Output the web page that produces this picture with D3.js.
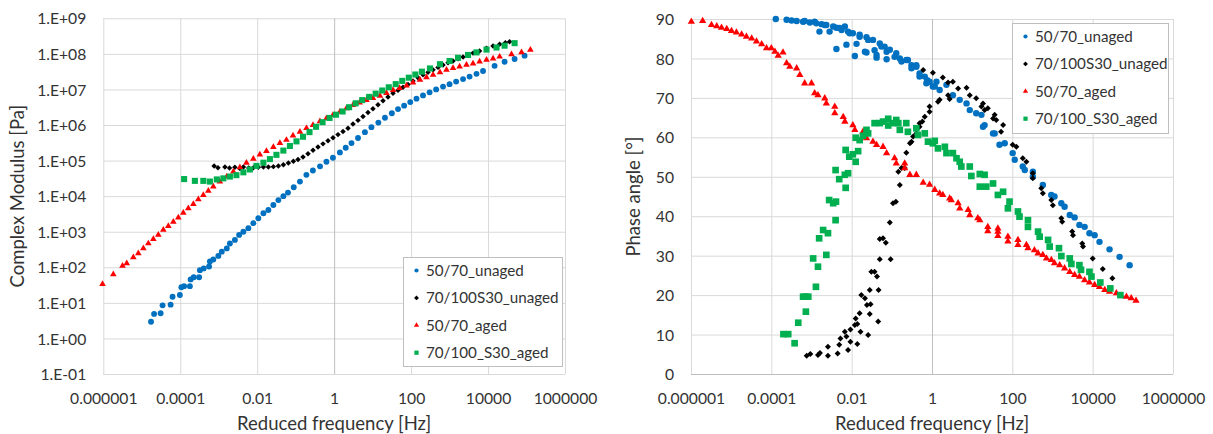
<!DOCTYPE html>
<html>
<head>
<meta charset="utf-8">
<script src="https://cdn.jsdelivr.net/npm/d3@7"></script>
<style>
  body { margin: 0; background: #ffffff; }
  text { font-family: Lato, "Noto Sans", sans-serif; fill: #333333; }
</style>
</head>
<body>
<svg id="chart" width="1213" height="434"></svg>
<script>
// ---------- Data ----------
const seriesNames = ["50/70_unaged", "70/100S30_unaged", "50/70_aged", "70/100_S30_aged"];

// Master curves: [reduced frequency (Hz), complex modulus (Pa)]
const modulus5070Unaged = [
  [1.74e-5, 2.95], [2.09e-5, 4.9], [3.09e-5, 5.1], [3.47e-5, 8.5], [5.62e-5, 8.9], [6.31e-5, 14.8],
  [9.77e-5, 16.6], [1.07e-4, 27.5], [1.26e-4, 29.5], [1.78e-4, 29.5], [1.86e-4, 45.7], [2.24e-4, 52.5],
  [3.09e-4, 52.5], [3.24e-4, 83], [4.07e-4, 93], [5.62e-4, 105], [5.89e-4, 145], [7.24e-4, 166],
  [9.77e-4, 209], [1.2e-3, 275], [1.62e-3, 339], [1.95e-3, 468], [2.63e-3, 589], [3.39e-3, 813],
  [4.37e-3, 1000], [5.89e-3, 1260], [7.94e-3, 1740], [1.07e-2, 2400], [1.45e-2, 3310], [1.95e-2, 4070],
  [2.63e-2, 5620], [3.55e-2, 7760], [4.79e-2, 1.0e4], [6.31e-2, 1.26e4], [8.91e-2, 1.78e4], [0.129, 2.57e4],
  [0.19, 3.98e4], [0.28, 5.25e4], [0.43, 6.9e4], [0.63, 9.3e4], [0.93, 1.2e5], [1.41, 1.7e5],
  [2.0, 2.3e5], [2.82, 3.1e5], [4.17, 4.3e5], [6.31, 6.3e5], [9.3, 8.7e5], [14.1, 1.17e6],
  [20.9, 1.6e6], [31.6, 2.14e6], [45.7, 2.8e6], [66, 3.5e6], [95, 4.4e6], [138, 5.5e6],
  [204, 6.8e6], [302, 8.3e6], [447, 1.0e7], [676, 1.2e7], [1000, 1.41e7], [1480, 1.66e7],
  [2240, 1.95e7], [3310, 2.3e7], [5010, 2.75e7], [7410, 3.3e7], [1.48e4, 4.6e7], [2.69e4, 6.0e7],
  [4.9e4, 7.2e7], [8.9e4, 8.9e7]
];
const modulus70100S30Unaged = [
  [7.59e-4, 7.08e4], [9.55e-4, 6.31e4], [1.45e-3, 6.61e4], [1.91e-3, 6.17e4], [2.63e-3, 6.46e4], [3.55e-3, 6.03e4],
  [4.37e-3, 6.61e4], [6.03e-3, 6.17e4], [7.94e-3, 6.31e4], [1.07e-2, 6.46e4], [1.45e-2, 6.61e4], [1.95e-2, 6.61e4],
  [2.63e-2, 6.76e4], [3.55e-2, 7.08e4], [4.79e-2, 7.59e4], [6.46e-2, 8.51e4], [8.71e-2, 9.55e4], [0.115, 1.07e5],
  [0.155, 1.26e5], [0.209, 1.55e5], [0.282, 1.95e5], [0.380, 2.4e5], [0.513, 2.95e5], [0.692, 3.63e5],
  [0.933, 4.37e5], [1.26, 5.37e5], [1.70, 6.61e5], [2.29, 8.13e5], [3.09, 1.07e6], [4.17, 1.35e6],
  [5.62, 1.74e6], [7.59, 2.24e6], [10.2, 2.88e6], [13.8, 3.72e6], [18.6, 4.79e6], [25.1, 6.17e6],
  [33.9, 7.76e6], [45.7, 9.55e6], [61.7, 1.15e7], [83.2, 1.38e7], [112, 1.74e7], [151, 2.14e7],
  [204, 2.57e7], [275, 3.02e7], [372, 3.55e7], [501, 4.17e7], [676, 4.9e7], [912, 5.62e7],
  [1230, 6.31e7], [1660, 7.24e7], [2240, 8.13e7], [3020, 9.33e7], [4070, 1.05e8], [6030, 1.2e8],
  [9120, 1.45e8], [1.35e4, 1.66e8], [2.0e4, 1.86e8], [2.82e4, 2.04e8], [3.63e4, 2.19e8]
];
const modulus5070Aged = [
  [9.55e-7, 33.9], [1.82e-6, 63.1], [3.16e-6, 110], [4.07e-6, 129], [6.03e-6, 191], [8.13e-6, 245],
  [1.1e-5, 339], [1.48e-5, 468], [2.0e-5, 617], [2.69e-5, 813], [3.63e-5, 1122], [4.9e-5, 1445],
  [6.61e-5, 1905], [8.91e-5, 2512], [1.2e-4, 3388], [1.62e-4, 4571], [2.19e-4, 6026], [2.95e-4, 8128],
  [3.98e-4, 1.07e4], [5.37e-4, 1.41e4], [7.24e-4, 1.86e4], [1.07e-3, 2.57e4], [1.62e-3, 3.55e4], [2.4e-3, 4.9e4],
  [3.55e-3, 6.46e4], [5.25e-3, 8.71e4], [7.94e-3, 1.12e5], [1.17e-2, 1.48e5], [1.74e-2, 1.86e5], [2.63e-2, 2.4e5],
  [3.89e-2, 3.09e5], [5.75e-2, 3.8e5], [8.51e-2, 5.01e5], [0.129, 6.46e5], [0.191, 8.13e5], [0.282, 1.0e6],
  [0.427, 1.26e6], [0.631, 1.55e6], [0.933, 1.91e6], [1.41, 2.34e6], [2.09, 2.95e6], [3.09, 3.63e6],
  [4.57, 4.27e6], [6.92, 5.01e6], [10.2, 5.75e6], [15.5, 6.61e6], [22.9, 7.94e6], [33.9, 9.55e6],
  [50.1, 1.1e7], [75.9, 1.29e7], [112, 1.55e7], [170, 1.86e7], [251, 2.19e7], [372, 2.57e7],
  [562, 3.02e7], [832, 3.55e7], [1230, 3.98e7], [1820, 4.37e7], [2750, 4.9e7], [4070, 5.37e7],
  [6030, 6.03e7], [9120, 6.76e7], [1.35e4, 7.41e7], [2.0e4, 8.32e7], [4.07e4, 9.77e7], [7.41e4, 1.1e8],
  [1.26e5, 1.29e8]
];
const modulus70100S30Aged = [
  [1.26e-4, 3.02e4], [2.4e-4, 2.69e4], [3.98e-4, 2.69e4], [5.89e-4, 2.57e4], [8.91e-4, 2.95e4], [1.32e-3, 3.16e4],
  [1.95e-3, 3.55e4], [2.88e-3, 3.89e4], [4.37e-3, 4.68e4], [6.46e-3, 5.62e4], [9.55e-3, 7.08e4], [1.45e-2, 8.71e4],
  [2.14e-2, 1.1e5], [3.16e-2, 1.45e5], [4.79e-2, 1.91e5], [7.08e-2, 2.57e5], [0.105, 3.47e5], [0.155, 4.68e5],
  [0.229, 6.31e5], [0.339, 8.91e5], [0.501, 1.2e6], [0.759, 1.58e6], [1.12, 1.95e6], [1.66, 2.4e6],
  [2.45, 3.16e6], [3.63, 4.07e6], [5.37, 5.01e6], [8.13, 6.17e6], [12.0, 7.59e6], [17.8, 9.33e6],
  [26.3, 1.15e7], [39.8, 1.41e7], [58.9, 1.74e7], [87.1, 2.14e7], [129, 2.63e7], [191, 3.16e7],
  [309, 3.89e7], [562, 5.13e7], [1000, 6.31e7], [1660, 7.76e7], [3020, 9.33e7], [5010, 1.1e8],
  [9120, 1.32e8], [1.66e4, 1.51e8], [2.69e4, 1.7e8], [4.9e4, 2.0e8]
];

// Phase angle curves: [reduced frequency (Hz), phase angle (deg)]
const phase5070Unaged = [
  [1.29e-4, 90.0], [2.4e-4, 89.8], [3.2e-4, 89.6], [4.27e-4, 89.5], [6.17e-4, 89.3], [6.76e-4, 89.5],
  [9.1e-4, 89.1], [1.2e-3, 89.3], [1.32e-3, 88.9], [1.58e-3, 86.8], [1.78e-3, 88.7], [2.14e-3, 88.5],
  [2.34e-3, 88.5], [2.82e-3, 86.8], [3.47e-3, 88.1], [4.17e-3, 87.8], [4.17e-3, 82.4], [5.01e-3, 87.7],
  [5.62e-3, 87.2], [6.76e-3, 88.1], [7.41e-3, 83.5], [8.13e-3, 86.8], [8.91e-3, 86.4], [1.07e-2, 86.4],
  [1.2e-2, 80.6], [1.32e-2, 83.7], [1.58e-2, 85.5], [1.58e-2, 86.0], [2.14e-2, 81.7], [2.34e-2, 85.4],
  [2.57e-2, 84.7], [2.34e-2, 81.5], [3.39e-2, 84.7], [3.72e-2, 82.1], [4.17e-2, 80.2], [4.17e-2, 80.9],
  [5.01e-2, 83.8], [5.5e-2, 83.0], [6.61e-2, 83.0], [7.41e-2, 81.7], [7.41e-2, 79.8], [8.91e-2, 82.2],
  [0.117, 80.4], [0.129, 81.3], [0.158, 80.0], [0.174, 79.2], [0.229, 79.6], [0.251, 79.6],
  [0.309, 78.3], [0.309, 77.5], [0.407, 77.9], [0.407, 78.3], [0.49, 76.2], [0.49, 75.4],
  [0.661, 75.4], [0.724, 73.7], [0.759, 74.5], [0.871, 74.1], [1.05, 72.9], [1.17, 72.9],
  [1.29, 74.1], [1.55, 72.0], [2.29, 73.3], [3.31, 70.7], [4.9, 69.5], [7.24, 68.6],
  [8.71, 66.9], [12.6, 66.1], [17.0, 65.7], [18.6, 62.7], [20.4, 63.1], [33.1, 61.0],
  [36.3, 61.0], [47.9, 58.1], [64.6, 58.5], [102, 56.0], [115, 54.3], [182, 52.6],
  [204, 51.7], [324, 50.0], [324, 51.3], [575, 47.9], [933, 45.4], [1120, 45.0],
  [1660, 43.3], [2000, 42.4], [2690, 40.3], [3550, 39.7], [4680, 37.8], [6310, 37.3],
  [8320, 35.7], [1.12e4, 35.2], [1.48e4, 33.5], [2.63e4, 31.6], [4.68e4, 29.7], [8.32e4, 27.6]
];
const phase70100S30Unaged = [
  [7.59e-4, 4.6], [9.33e-4, 5.1], [1.45e-3, 4.8], [1.62e-3, 5.3], [2.57e-3, 6.9], [2.57e-3, 4.6],
  [4.47e-3, 5.2], [4.9e-3, 7.4], [5.25e-3, 9.0], [6.76e-3, 10.7], [8.13e-3, 6.1], [7.41e-3, 9.5],
  [9.33e-3, 8.2], [9.33e-3, 11.3], [1.2e-2, 12.4], [1.38e-2, 7.6], [1.26e-2, 14.1], [1.38e-2, 12.7],
  [1.58e-2, 15.4], [1.66e-2, 10.7], [1.74e-2, 20.0], [2.14e-2, 19.2], [2.4e-2, 17.5], [2.57e-2, 9.9],
  [2.82e-2, 15.2], [2.82e-2, 21.3], [2.95e-2, 17.7], [3.09e-2, 25.9], [3.72e-2, 25.9], [4.27e-2, 24.7],
  [4.57e-2, 13.3], [4.68e-2, 21.3], [5.01e-2, 29.1], [5.01e-2, 34.2], [6.03e-2, 34.4], [7.08e-2, 33.3],
  [8.91e-2, 38.4], [9.33e-2, 29.1], [0.107, 43.3], [0.126, 43.7], [0.158, 47.9], [0.145, 51.3],
  [0.174, 52.2], [0.209, 52.2], [0.229, 56.1], [0.282, 58.5], [0.309, 58.9], [0.339, 60.2],
  [0.407, 61.0], [0.49, 62.7], [0.49, 63.6], [0.575, 64.0], [0.661, 65.2], [0.871, 66.5],
  [0.871, 67.8], [1.41, 69.0], [1.55, 69.5], [2.51, 70.7], [2.75, 69.7],
  [0.603, 77.1], [1.05, 76.4], [1.86, 75.2], [2.51, 73.9], [3.31, 74.1], [4.47, 72.4],
  [7.24, 72.6], [8.71, 70.7], [12.6, 69.9], [17.0, 67.8], [18.6, 68.6], [20.4, 66.9],
  [24.5, 67.4], [33.1, 64.8], [36.3, 65.7], [39.8, 64.4], [52.5, 61.4], [58.9, 63.1],
  [102, 58.1], [126, 57.6], [182, 54.7], [224, 53.8], [324, 50.9], [324, 49.6],
  [525, 47.1], [575, 45.8], [933, 44.1], [1020, 42.8], [1660, 39.5], [1740, 38.6],
  [3090, 36.1], [3240, 35.2], [5500, 33.1], [5750, 32.3], [1.0e4, 29.3], [1.78e4, 26.6],
  [3.09e4, 24.3]
];
const phase5070Aged = [
  [1.02e-6, 89.3], [1.95e-6, 89.5], [3.24e-6, 88.5], [4.37e-6, 88.2], [5.75e-6, 87.8], [7.76e-6, 87.5],
  [1.02e-5, 87.0], [1.35e-5, 86.6], [1.82e-5, 86.1], [2.4e-5, 85.5], [3.24e-5, 85.1], [4.27e-5, 84.3],
  [5.75e-5, 83.6], [7.59e-5, 82.6], [1.0e-4, 82.6], [1.23e-4, 81.7], [1.48e-4, 80.7], [1.95e-4, 81.5],
  [2.4e-4, 78.8], [2.88e-4, 77.9], [4.27e-4, 77.5], [5.13e-4, 75.8], [6.76e-4, 73.7], [1.0e-3, 73.7],
  [1.2e-3, 71.2], [1.45e-3, 70.7], [2.14e-3, 69.9], [2.34e-3, 68.6], [3.8e-3, 67.8], [3.8e-3, 66.1],
  [6.17e-3, 65.2], [6.76e-3, 64.0], [1.07e-2, 63.1], [1.2e-2, 61.9], [1.91e-2, 61.4], [2.34e-2, 59.8],
  [3.39e-2, 58.9], [4.17e-2, 58.1], [6.03e-2, 57.6], [7.41e-2, 56.0], [0.117, 54.7], [0.129, 53.4],
  [0.209, 53.4], [0.209, 52.2], [0.282, 50.5], [0.407, 50.5], [0.603, 48.5], [0.871, 48.0],
  [1.17, 46.7], [1.55, 45.8], [1.86, 45.4], [2.75, 44.5], [3.02, 44.1], [4.47, 43.3],
  [4.9, 42.0], [7.94, 41.6], [8.71, 40.3], [13.8, 39.5], [15.5, 39.0], [24.5, 37.3],
  [24.5, 36.2], [43.7, 36.9], [43.7, 36.1], [43.7, 35.0], [77.6, 34.8], [77.6, 33.6],
  [138, 34.0], [138, 32.7], [224, 32.7], [245, 31.9], [355, 31.4], [437, 30.6],
  [575, 30.2], [708, 29.3], [933, 28.9], [1120, 28.1], [1510, 27.6], [2000, 26.8],
  [2690, 25.9], [3550, 25.1], [4680, 24.7], [6310, 23.8], [8320, 23.2], [1.12e4, 22.6],
  [1.48e4, 22.1], [2.0e4, 21.3], [2.63e4, 20.9], [3.89e4, 20.5], [5.13e4, 19.8], [6.92e4, 19.6],
  [9.12e4, 19.2], [1.2e5, 18.6]
];
const phase70100S30Aged = [
  [2.0e-4, 10.1], [2.63e-4, 10.1], [3.8e-4, 7.8], [4.68e-4, 13.0], [6.17e-4, 19.6], [7.08e-4, 19.6],
  [8.32e-4, 19.6], [7.24e-4, 15.8], [1.1e-3, 29.3], [1.29e-3, 22.1], [1.45e-3, 27.2], [1.55e-3, 34.4],
  [1.95e-3, 36.5], [2.34e-3, 30.2], [2.57e-3, 35.7], [2.75e-3, 44.1], [3.47e-3, 43.3], [3.98e-3, 39.0],
  [4.07e-3, 43.7], [3.98e-3, 51.7], [4.9e-3, 49.4], [6.76e-3, 50.5], [7.08e-3, 47.2], [8.13e-3, 50.9],
  [7.08e-3, 56.8], [8.71e-3, 55.1], [1.07e-2, 55.7], [1.26e-2, 53.8], [1.45e-2, 56.5], [1.26e-2, 59.9],
  [1.58e-2, 59.3], [1.91e-2, 60.4], [2.34e-2, 61.9], [2.57e-2, 61.0], [3.72e-2, 63.6], [5.01e-2, 63.6],
  [6.03e-2, 64.0], [8.13e-2, 64.7], [8.13e-2, 63.0], [0.107, 63.6], [0.129, 64.4], [0.145, 63.6],
  [0.158, 61.9], [0.229, 63.6], [0.251, 61.4], [0.407, 62.3], [0.447, 60.6], [0.661, 61.0],
  [0.794, 58.9], [1.05, 58.5], [1.17, 59.1], [1.41, 57.2], [2.09, 57.6], [2.29, 56.0],
  [3.31, 56.0], [4.07, 54.7], [4.9, 53.8], [5.37, 52.6], [8.71, 52.6], [9.55, 50.2],
  [15.5, 50.7], [15.5, 47.5], [20.4, 50.5], [22.4, 47.5], [33.1, 48.3], [43.7, 45.4],
  [58.9, 46.2], [77.6, 42.0], [85.1, 43.7], [138, 41.2], [151, 39.9], [245, 39.0],
  [245, 37.3], [437, 36.1], [479, 34.8], [776, 34.0], [851, 32.3], [1450, 31.9],
  [1660, 29.9], [2690, 29.3], [2950, 27.9], [4680, 27.6], [5130, 26.4], [8320, 25.9],
  [9330, 24.7], [1.55e4, 23.2], [2.75e4, 21.7], [4.9e4, 20.0]
];

// Axis ticks and labels
const freqTicks = [1e-6, 1e-4, 1e-2, 1, 1e2, 1e4, 1e6];
const freqTickLabels = ["0.000001", "0.0001", "0.01", "1", "100", "10000", "1000000"];
const modulusTicks = [1e-1, 1e0, 1e1, 1e2, 1e3, 1e4, 1e5, 1e6, 1e7, 1e8, 1e9];
const modulusTickLabels = ["1.E-01", "1.E+00", "1.E+01", "1.E+02", "1.E+03", "1.E+04", "1.E+05", "1.E+06", "1.E+07", "1.E+08", "1.E+09"];
const phaseTicks = [0, 10, 20, 30, 40, 50, 60, 70, 80, 90];
const phaseTickLabels = ["0", "10", "20", "30", "40", "50", "60", "70", "80", "90"];

// ---------- Drawing ----------
const svg = d3.select("#chart");
const textColor = "#333333";

// Rotated-square marker (diamond with equal diagonals)
const squareDiamond = {
  draw(ctx, size) {
    const r = Math.sqrt(size / 2);
    ctx.moveTo(0, -r); ctx.lineTo(r, 0); ctx.lineTo(0, r); ctx.lineTo(-r, 0); ctx.closePath();
  }
};

const styles = [
  { color: "#0070C0", type: d3.symbolCircle, size: 27, legendSize: 14 },
  { color: "#000000", type: squareDiamond, size: 15, legendSize: 12 },
  { color: "#FF0000", type: d3.symbolTriangle, size: 19, legendSize: 12 },
  { color: "#00B050", type: d3.symbolSquare, size: 37, legendSize: 18 }
];

function drawPanel(cfg) {
  const g = svg.append("g");
  const { left, right, top, bottom } = cfg;
  const x = d3.scaleLog().domain([1e-6, 1e6]).range([left, right]);
  const y = cfg.y.range([bottom, top]);

  // Horizontal gridlines + value labels
  const yAxis = g.append("g")
    .attr("transform", `translate(${left},0)`)
    .call(d3.axisLeft(y).tickValues(cfg.yTicks)
      .tickFormat((d, i) => cfg.yLabels[i])
      .tickSize(-(right - left)).tickPadding(17));
  yAxis.select(".domain").remove();
  yAxis.selectAll(".tick line").attr("stroke", "#d9d9d9");
  yAxis.selectAll(".tick text").attr("font-size", 15.7).attr("fill", textColor).attr("dy", "0.36em");

  // Vertical gridlines + frequency labels
  const xAxis = g.append("g")
    .attr("transform", `translate(0,${bottom})`)
    .call(d3.axisBottom(x).tickValues(freqTicks)
      .tickFormat((d, i) => freqTickLabels[i])
      .tickSize(-(bottom - top)).tickPadding(18.5));
  xAxis.select(".domain").remove();
  xAxis.selectAll(".tick line").attr("stroke", d => d === 1 ? "#bfbfbf" : "#d9d9d9");
  xAxis.selectAll(".tick text").attr("font-size", 15.7).attr("fill", textColor);

  // Horizontal axis line along the bottom
  g.append("line")
    .attr("x1", left).attr("x2", right)
    .attr("y1", Math.round(bottom) + 0.5).attr("y2", Math.round(bottom) + 0.5)
    .attr("stroke", cfg.bottomLine);

  // Axis titles
  g.append("text")
    .attr("x", (left + right) / 2).attr("y", 430)
    .attr("text-anchor", "middle").attr("font-size", 18.5).attr("fill", textColor)
    .text("Reduced frequency [Hz]");
  g.append("text")
    .attr("transform", `translate(${cfg.yTitleX},${(top + bottom) / 2}) rotate(-90)`)
    .attr("text-anchor", "middle").attr("font-size", 18.5).attr("fill", textColor)
    .text(cfg.yTitle);

  // Series markers
  cfg.series.forEach((data, i) => {
    const st = styles[i];
    g.append("g").selectAll("path").data(data).join("path")
      .attr("transform", d => `translate(${x(d[0])},${y(d[1])})`)
      .attr("d", d3.symbol().type(st.type).size(st.size * cfg.markerScale))
      .attr("fill", st.color);
  });

  // Legend
  const lg = g.append("g").attr("transform", `translate(${cfg.legend.x},${cfg.legend.y})`);
  lg.append("rect")
    .attr("x", 0.5).attr("y", 0.5)
    .attr("width", cfg.legend.w).attr("height", cfg.legend.h)
    .attr("fill", "#ffffff").attr("stroke", "#bfbfbf");
  seriesNames.forEach((name, i) => {
    const st = styles[i];
    const cy = 13.5 + i * 27.4;
    lg.append("path")
      .attr("transform", `translate(13.5,${cy})`)
      .attr("d", d3.symbol().type(st.type).size(st.legendSize))
      .attr("fill", st.color);
    lg.append("text")
      .attr("x", 23).attr("y", cy).attr("dy", "0.36em")
      .attr("font-size", 15.2).attr("fill", textColor)
      .text(name);
  });
}

drawPanel({
  left: 103.3, right: 565, top: 18.3, bottom: 374,
  y: d3.scaleLog().domain([1e-1, 1e9]),
  yTicks: modulusTicks, yLabels: modulusTickLabels,
  yTitle: "Complex Modulus [Pa]", yTitleX: 24,
  bottomLine: "#d9d9d9",
  markerScale: 1,
  series: [modulus5070Unaged, modulus70100S30Unaged, modulus5070Aged, modulus70100S30Aged],
  legend: { x: 403, y: 257, w: 159, h: 109 }
});

drawPanel({
  left: 691, right: 1173, top: 19, bottom: 374,
  y: d3.scaleLinear().domain([0, 90]),
  yTicks: phaseTicks, yLabels: phaseTickLabels,
  yTitle: "Phase angle [°]", yTitleX: 640,
  bottomLine: "#bfbfbf",
  markerScale: 1.2,
  series: [phase5070Unaged, phase70100S30Unaged, phase5070Aged, phase70100S30Aged],
  legend: { x: 1012, y: 23, w: 156, h: 110 }
});
</script>
</body>
</html>
